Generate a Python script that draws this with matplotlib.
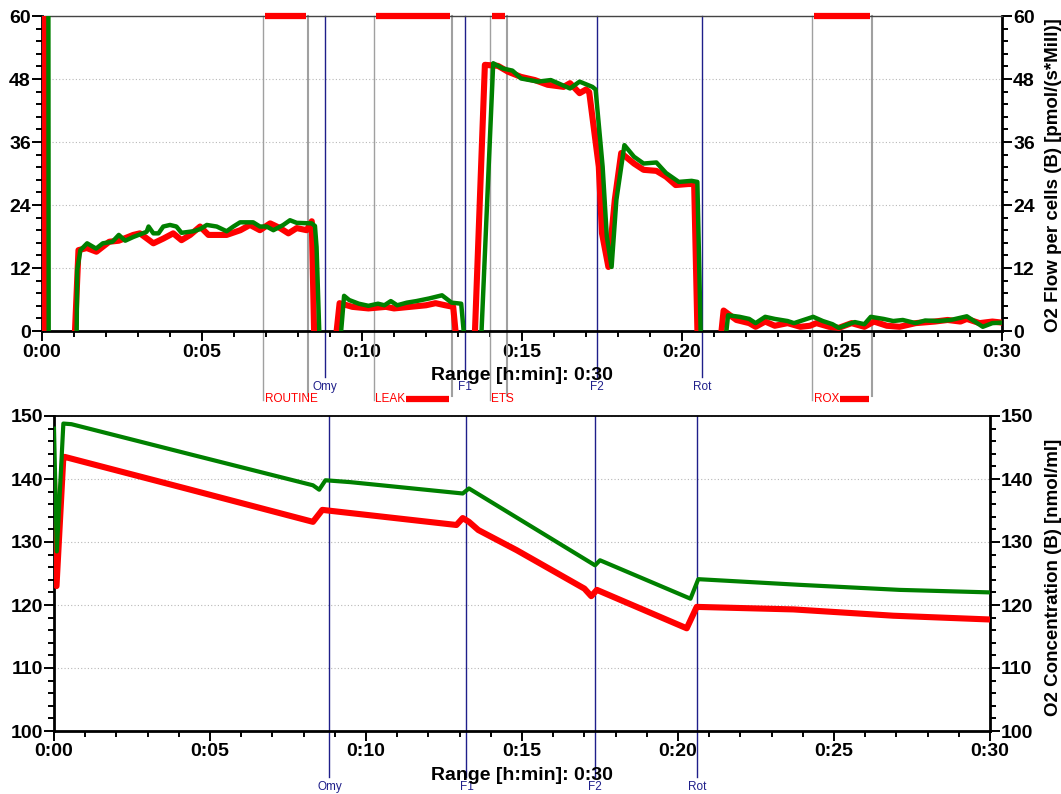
import matplotlib
matplotlib.use("Agg")
import matplotlib.pyplot as plt
from matplotlib.ticker import MultipleLocator, FuncFormatter
import numpy as np

plt.rcParams['font.family'] = ['Liberation Sans', 'DejaVu Sans']

# --- O2 flow per cells (top panel), time in minutes ---
flow_red_t = [0.0, 0.06, 0.08, 0.96, 1.14, 1.4, 1.7, 2.1, 2.4, 2.85, 3.06, 3.48, 3.79, 4.1,
              4.36, 4.63, 4.94, 5.2, 5.77, 6.2, 6.5, 6.81, 7.13, 7.44, 7.7, 7.96, 8.27, 8.43,
              8.52, 9.12, 9.3, 9.7, 10.2, 10.75, 11.0, 11.5, 12.0, 12.3, 12.6, 12.85, 13.0,
              13.5, 13.84, 14.25, 14.56, 14.97, 15.4, 15.8, 16.3, 16.5, 16.8, 17.0, 17.1,
              17.4, 17.5, 17.7, 17.9, 18.1, 18.5, 18.8, 19.2, 19.5, 19.8, 20.2, 20.38, 20.5,
              21.15, 21.3, 21.7, 22.1, 22.3, 22.6, 22.9, 23.3, 23.7, 24.0, 24.2, 24.6, 24.9,
              25.3, 25.7, 26.0, 26.4, 26.8, 27.3, 27.9, 28.3, 28.7, 28.9, 29.3, 29.7, 30.0]
flow_red_v = [200, 200, -10, -10, 15.4, 15.8, 15.1, 17.0, 17.2, 18.3, 18.6, 16.7, 17.6, 18.6,
              17.3, 18.3, 19.9, 18.3, 18.3, 19.2, 20.2, 19.2, 20.5, 19.6, 18.6, 19.6, 19.2, 20.9,
              -5, -5, 5.3, 4.6, 4.3, 4.6, 4.3, 4.6, 4.9, 5.3, 4.9, 4.6, -5,
              -5, 50.7, 50.5, 49.4, 48.4, 47.8, 46.9, 46.5, 47.2, 45.3, 46.0, 45.5,
              31.3, 18.6, 12.2, 25.0, 33.9, 31.9, 30.7, 30.5, 29.4, 27.8, 28.0, 28.0, -5,
              -5, 3.9, 2.1, 1.5, 0.8, 1.8, 1.0, 1.5, 0.8, 1.0, 1.5, 0.8, 0.6,
              1.5, 0.8, 1.8, 1.0, 0.8, 1.5, 1.8, 2.1, 1.8, 2.3, 1.5, 1.8, 1.6]

flow_green_t = [0.0, 0.18, 0.21, 1.07, 1.1, 1.2, 1.41, 1.69, 1.9, 2.2, 2.4, 2.6, 2.85, 3.27,
                3.33, 3.48, 3.64, 3.79, 4.0, 4.2, 4.36, 4.73, 4.94, 5.15, 5.46, 5.77, 5.98,
                6.19, 6.6, 6.81, 7.02, 7.23, 7.54, 7.75, 7.96, 8.43, 8.53, 8.58, 8.69,
                9.28, 9.44, 9.6, 9.9, 10.2, 10.5, 10.7, 10.9, 11.1, 11.4, 11.7, 12.1, 12.5,
                12.8, 13.1, 13.25, 13.7, 14.1, 14.4, 14.7, 14.97, 15.5, 15.9, 16.5, 16.8,
                17.2, 17.3, 17.52, 17.65, 17.8, 17.95, 18.2, 18.5, 18.8, 19.2, 19.5, 19.9,
                20.3, 20.48, 20.6, 21.3, 21.44, 21.8, 22.1, 22.3, 22.6, 22.9, 23.3, 23.5,
                23.8, 24.1, 24.4, 24.7, 24.9, 25.2, 25.4, 25.7, 25.9, 26.3, 26.6, 26.9,
                27.3, 27.6, 28.0, 28.4, 28.9, 29.4, 29.7, 30.0]
flow_green_v = [200, 200, -10, -10, 11.6, 15.4, 16.7, 15.7, 16.7, 17.0, 18.3, 17.2, 17.9, 18.9,
                19.9, 18.6, 18.6, 19.9, 20.2, 19.9, 18.7, 19.0, 19.4, 20.2, 19.9, 19.0, 19.9,
                20.7, 20.7, 19.9, 19.9, 19.2, 20.2, 21.1, 20.6, 20.5, 20.0, 16.0, -5,
                -5, 6.7, 5.9, 5.2, 4.8, 5.2, 4.9, 5.7, 4.9, 5.4, 5.7, 6.2, 6.8,
                5.4, 5.2, -5, -5, 51.0, 50.0, 49.6, 48.1, 47.5, 47.8, 46.2, 47.5,
                46.5, 46.0, 31.3, 18.0, 12.2, 25.0, 35.4, 33.2, 31.9, 32.1, 30.1, 28.4,
                28.6, 28.4, -5, -5, 3.0, 2.7, 2.3, 1.5, 2.7, 2.3, 1.9, 1.5,
                2.1, 2.7, 1.9, 1.3, 0.6, 1.3, 1.7, 1.3, 2.7, 2.3, 1.9, 2.1,
                1.5, 2.0, 1.9, 2.1, 2.8, 0.8, 1.5, 1.6]

# --- O2 concentration (bottom panel) ---
conc_red_t = [0.0, 0.08, 0.3, 0.35, 4.3, 8.3, 8.6, 8.95, 12.9, 13.1, 13.3, 13.6, 14.83,
              17.0, 17.22, 17.4, 20.28, 20.6, 23.7, 26.9, 30.0]
conc_red_v = [140.0, 123.0, 143.5, 143.5, 138.4, 133.2, 135.1, 134.9, 132.7, 133.8, 133.2,
              131.9, 128.7, 122.6, 121.4, 122.4, 116.3, 119.7, 119.3, 118.3, 117.7]
conc_green_t = [0.0, 0.09, 0.3, 0.56, 4.3, 8.3, 8.5, 8.7, 9.5, 13.1, 13.3, 17.34, 17.5,
                20.4, 20.65, 23.9, 27.1, 30.0]
conc_green_v = [148.0, 128.5, 148.8, 148.7, 144.0, 139.0, 138.3, 139.8, 139.5, 137.7, 138.5,
                126.3, 127.1, 121.0, 124.1, 123.2, 122.4, 122.0]

# --- events (titrations) and marks ---
event_names = ['Omy', 'F1', 'F2', 'Rot']
event_times = [8.83, 13.22, 17.35, 20.62]
mark_names = ['ROUTINE', 'LEAK', 'ETS', 'ROX']
mark_start = [6.92, 10.36, 13.99, 24.07]
mark_end = [8.32, 12.82, 14.52, 25.94]

RED = '#ff0000'
GREEN = '#008000'
BLUE = '#1f1f8a'
GRAY = '#a0a0a0'

W, H = 1061, 794
fig = plt.figure(figsize=(W / 100, H / 100), dpi=100)
ax1 = fig.add_axes([42 / W, 1 - 331 / H, 960 / W, 315 / H])
ax2 = fig.add_axes([54 / W, 1 - 731 / H, 936 / W, 315 / H])


def style_axes(ax, ymin, ymax, ymajor, yminor):
    ax.set_xlim(0, 30)
    ax.set_ylim(ymin, ymax)
    ax.xaxis.set_major_locator(MultipleLocator(5))
    ax.xaxis.set_minor_locator(MultipleLocator(1))
    ax.yaxis.set_major_locator(MultipleLocator(ymajor))
    ax.yaxis.set_minor_locator(MultipleLocator(yminor))
    ax.xaxis.set_major_formatter(FuncFormatter(lambda v, p: f"{int(round(v)) // 60}:{int(round(v)) % 60:02d}"))
    ax.tick_params(axis='y', which='both', direction='out', left=True, right=True,
                   labelleft=True, labelright=True, width=1.4, pad=1)
    ax.tick_params(axis='y', which='major', length=7)
    ax.tick_params(axis='y', which='minor', length=4)
    ax.tick_params(axis='x', which='major', direction='out', length=7, width=1.4, pad=2)
    ax.tick_params(axis='x', which='minor', direction='out', length=4, width=1.4)
    for lab in ax.get_xticklabels() + ax.get_yticklabels():
        lab.set_fontsize(14)
        lab.set_fontweight('bold')
    ax.yaxis.grid(True, which='major', linestyle=(0, (1, 2)), color='#b8b8b8', linewidth=0.8)
    ax.set_axisbelow(True)
    for s in ['left', 'bottom', 'right']:
        ax.spines[s].set_linewidth(2)
        ax.spines[s].set_color('black')


style_axes(ax1, 0, 60, 12, 2.4)
style_axes(ax2, 100, 150, 10, 2)
ax1.spines['top'].set_linewidth(1)
ax1.spines['top'].set_color('#444444')
ax2.spines['top'].set_linewidth(1.3)

# data
ax1.plot(flow_red_t, flow_red_v, color=RED, lw=4.4, zorder=3, solid_joinstyle='round')
ax1.plot(flow_green_t, flow_green_v, color=GREEN, lw=3.2, zorder=4, solid_joinstyle='round')
ax2.plot(conc_red_t, conc_red_v, color=RED, lw=4.4, zorder=3, solid_joinstyle='round')
ax2.plot(conc_green_t, conc_green_v, color=GREEN, lw=3.0, zorder=4, solid_joinstyle='round')

# event lines and labels
for name, t in zip(event_names, event_times):
    for ax in (ax1, ax2):
        ax.axvline(t, ymin=-0.146, ymax=1, color=BLUE, lw=1.0, clip_on=False, zorder=2)
        ax.text(t, -0.178, name, transform=ax.get_xaxis_transform(), color=BLUE,
                fontsize=8.5, ha='center', va='center')

# marks: gray bounding lines, red bars and labels
renderer = fig.canvas.get_renderer()
px = 30 / 960  # minutes per pixel in top panel
for name, t0, t1 in zip(mark_names, mark_start, mark_end):
    ax1.axvline(t0, ymin=-0.219, ymax=1, color=GRAY, lw=1.0, clip_on=False, zorder=2)
    ax1.axvline(t1, ymin=-0.206, ymax=1, color=GRAY, lw=1.5, clip_on=False, zorder=2)
    ax1.plot([t0 + 2 * px, t1 - 2 * px], [60, 60], color=RED, lw=4.5,
             solid_capstyle='butt', clip_on=False, zorder=5)
    txt = ax1.text(t0 + 1.5 * px, -0.216, name, transform=ax1.get_xaxis_transform(),
                   color=RED, fontsize=8.5, ha='left', va='center')
    bb = txt.get_window_extent(renderer)
    t_end = ax1.transData.inverted().transform((bb.x1, 0))[0]
    if t_end < t1 - 3 * px:
        ax1.plot([t_end + px, t1 - 3 * px], [-0.216, -0.216], color=RED, lw=4.5,
                 solid_capstyle='butt', transform=ax1.get_xaxis_transform(),
                 clip_on=False, zorder=5)

# axis titles
fig.text(521.5 / W, 1 - 375 / H, 'Range [h:min]: 0:30', fontsize=14, fontweight='bold',
         ha='center', va='center')
fig.text(521.5 / W, 1 - 775 / H, 'Range [h:min]: 0:30', fontsize=14, fontweight='bold',
         ha='center', va='center')
fig.text(1053 / W, 1 - 175 / H, 'O2 Flow per cells (B) [pmol/(s*Mill)]', fontsize=13.5,
         fontweight='bold', rotation=90, ha='center', va='center')
fig.text(1053 / W, 1 - 577 / H, 'O2 Concentration (B) [nmol/ml]', fontsize=13.5,
         fontweight='bold', rotation=90, ha='center', va='center')

fig.savefig('out.png', dpi=100)
